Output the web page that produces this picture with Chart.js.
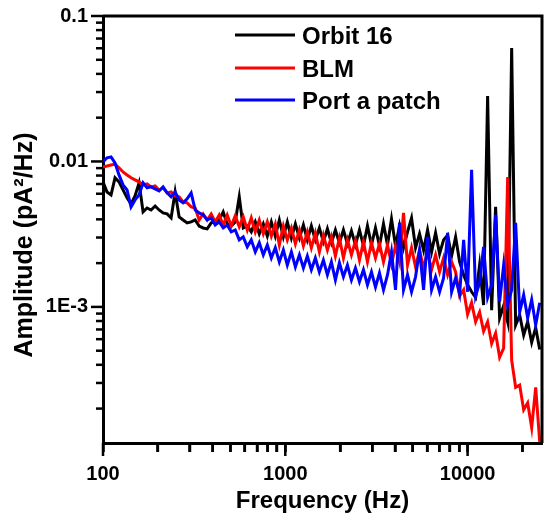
<!DOCTYPE html>
<html><head><meta charset="utf-8">
<script src="https://cdn.jsdelivr.net/npm/chart.js@4.4.0/dist/chart.umd.min.js"></script>
<style>html,body{margin:0;padding:0;background:#fff;}canvas{display:block;}</style>
</head><body>
<canvas id="c" width="544" height="523"></canvas>
<script>
// Frequency grid (Hz)
const freqHz = [100, 105.2, 110.7, 116.4, 122.4, 128.8, 135.5, 142.5, 149.9, 157.7,
 165.9, 174.5, 183.5, 193.1, 203.1, 213.6, 224.7, 236.4, 248.7, 261.6,
 275.2, 289.4, 304.5, 320.3, 336.9, 354.4, 372.8, 392.2, 412.6, 434.0,
 456.5, 480.2, 505.2, 531.4, 559.0, 588.0, 618.6, 650.7, 684.5, 720.0,
 757.4, 796.8, 838.2, 881.7, 927.5, 975.7, 1026, 1080, 1136, 1195,
 1257, 1321, 1390, 1462, 1538, 1618, 1702, 1790, 1883, 1981,
 2084, 2192, 2306, 2426, 2552, 2684, 2823, 2970, 3124, 3286,
 3457, 3636, 3825, 4024, 4233, 4452, 4684, 4927, 5183, 5452,
 5735, 6032, 6346, 6675, 7022, 7386, 7770, 8173, 8597, 9044,
 9513, 10000, 10520, 11070, 11640, 12240, 12880, 13550, 14250, 14990,
 15770, 16590, 17450, 18350, 19310, 20310, 21360, 22470, 23640, 24870];

// Amplitude (pA^2/Hz)
const orbit16 = [0.00724, 0.00617, 0.00589, 0.00772, 0.00724, 0.00637, 0.00562, 0.0051, 0.0058, 0.00713,
 0.0045, 0.00479, 0.00464, 0.00494, 0.00464, 0.00443, 0.00436, 0.00409, 0.00617, 0.00416,
 0.00396, 0.00378, 0.00384, 0.00396, 0.0036, 0.00349, 0.00344, 0.00378, 0.00384, 0.00396,
 0.0045, 0.00372, 0.0036, 0.00384, 0.00571, 0.00349, 0.0036, 0.00328, 0.00384, 0.00318,
 0.00372, 0.00307, 0.00384, 0.00307, 0.00396, 0.00303, 0.00384, 0.00298, 0.00372, 0.00298,
 0.00366, 0.00289, 0.0036, 0.00289, 0.00349, 0.0028, 0.00344, 0.00276, 0.00338, 0.00276,
 0.00338, 0.00272, 0.00333, 0.00267, 0.00338, 0.00263, 0.0036, 0.00267, 0.00349, 0.00263,
 0.00372, 0.00267, 0.00402, 0.00263, 0.0036, 0.00255, 0.00328, 0.00409, 0.00255, 0.00318,
 0.00246, 0.00338, 0.00239, 0.00323, 0.00232, 0.00289, 0.00312, 0.00224, 0.00303, 0.00204,
 0.00166, 0.00142, 0.00127, 0.00116, 0.00194, 0.00103, 0.0282, 0.00095, 0.00487, 0.00084,
 0.00102, 0.00079, 0.0603, 0.00075, 0.00088, 0.00064, 0.00079, 0.00057, 0.00072, 0.00051];

const blm = [0.00917, 0.00931, 0.00946, 0.0096, 0.00903, 0.00847, 0.00808, 0.00772, 0.00747, 0.00724,
 0.0069, 0.00702, 0.00669, 0.0068, 0.00637, 0.00659, 0.00608, 0.00617, 0.0058, 0.00571,
 0.00527, 0.00519, 0.00487, 0.00479, 0.00396, 0.00436, 0.00396, 0.00436, 0.00384, 0.00429,
 0.00366, 0.00429, 0.0036, 0.00423, 0.00355, 0.00416, 0.00338, 0.00409, 0.00328, 0.00396,
 0.00318, 0.00384, 0.00307, 0.00372, 0.00267, 0.0036, 0.00289, 0.00349, 0.00272, 0.00338,
 0.00263, 0.00328, 0.00255, 0.00323, 0.00239, 0.00312, 0.00246, 0.00303, 0.00224, 0.00298,
 0.00217, 0.00289, 0.00228, 0.00285, 0.0021, 0.0028, 0.00204, 0.00276, 0.00217, 0.00272,
 0.00204, 0.00267, 0.00197, 0.00263, 0.00204, 0.00443, 0.00194, 0.00255, 0.00188, 0.00246,
 0.00185, 0.00239, 0.0018, 0.00228, 0.00174, 0.00217, 0.00166, 0.00204, 0.00174, 0.00119,
 0.00131, 0.00089, 0.00107, 0.00079, 0.00092, 0.00068, 0.00079, 0.00056, 0.00066, 0.00045,
 0.00052, 0.00783, 0.00043, 0.00028, 0.00029, 0.000196, 0.000219, 0.000148, 0.00028, 0.000118];

const portAPatch = [0.00991, 0.0106, 0.01076, 0.00976, 0.00808, 0.0069, 0.00637, 0.00487, 0.00544, 0.00589,
 0.00713, 0.00659, 0.00669, 0.00648, 0.00627, 0.00669, 0.00608, 0.00571, 0.00617, 0.00544,
 0.00519, 0.00553, 0.00608, 0.00464, 0.00443, 0.00429, 0.00396, 0.00409, 0.00366, 0.00384,
 0.00349, 0.00366, 0.00328, 0.00338, 0.00289, 0.00303, 0.00259, 0.00289, 0.00239, 0.00276,
 0.00228, 0.00267, 0.00217, 0.00255, 0.00204, 0.00246, 0.00194, 0.00239, 0.00188, 0.00228,
 0.00185, 0.00224, 0.0018, 0.00217, 0.00174, 0.0021, 0.00166, 0.00204, 0.00153, 0.00201,
 0.00161, 0.00194, 0.00153, 0.00185, 0.00149, 0.0018, 0.00142, 0.00174, 0.00137, 0.00171,
 0.00131, 0.00166, 0.00239, 0.00131, 0.00378, 0.00131, 0.00166, 0.00127, 0.00161, 0.00246,
 0.00131, 0.00303, 0.00131, 0.00161, 0.00127, 0.00158, 0.00323, 0.00127, 0.00158, 0.00123,
 0.00289, 0.00127, 0.00875, 0.00119, 0.00146, 0.00259, 0.00116, 0.00142, 0.00429, 0.00109,
 0.00194, 0.00103, 0.00131, 0.00378, 0.00092, 0.00121, 0.00084, 0.00112, 0.00075, 0.00107];

// Tick positions and labels
const xTicks = [100, 200, 300, 400, 500, 600, 700, 800, 900, 1000, 2000, 3000, 4000, 5000, 6000, 7000, 8000, 9000, 10000, 20000];
const xTickLabels = {100: '100', 1000: '1000', 10000: '10000'};
const yTicks = [0.0002, 0.0003, 0.0004, 0.0005, 0.0006, 0.0007, 0.0008, 0.0009, 0.001,
 0.002, 0.003, 0.004, 0.005, 0.006, 0.007, 0.008, 0.009, 0.01,
 0.02, 0.03, 0.04, 0.05, 0.06, 0.07, 0.08, 0.09, 0.1];
const yTickLabels = {0.001: '1E-3', 0.01: '0.01', 0.1: '0.1'};

const FONT = '"Liberation Sans", Arial, sans-serif';
Chart.defaults.font.family = FONT;
Chart.defaults.font.weight = 'bold';
Chart.defaults.color = '#000';

const pts = arr => freqHz.map((f, i) => ({x: f, y: arr[i]}));

// Tick marks placed through the scales: long for labelled decades, short otherwise
const tickMarks = {
  id: 'tickMarks',
  afterDraw(chart) {
    const ctx = chart.ctx, xs = chart.scales.x, ys = chart.scales.y;
    ctx.save();
    ctx.fillStyle = '#000000';
    xs.ticks.forEach(t => {
      const len = xTickLabels[t.value] ? 13 : 9;
      const px = xs.getPixelForValue(t.value);
      ctx.fillRect(px - 1.25, xs.top, 2.5, len);
    });
    ys.ticks.forEach(t => {
      const len = yTickLabels[t.value] ? 12 : 7;
      const py = ys.getPixelForValue(t.value);
      ctx.fillRect(ys.right - len, py - 1.25, len, 2.5);
    });
    ctx.restore();
  }
};

const frame = {
  id: 'frame',
  afterDatasetsDraw(chart) {
    const {ctx, chartArea: a} = chart;
    ctx.save();
    ctx.strokeStyle = '#000';
    ctx.lineWidth = 3;
    ctx.beginPath();
    ctx.moveTo(a.left, a.top); ctx.lineTo(a.right, a.top); ctx.lineTo(a.right, a.bottom);
    ctx.stroke();
    ctx.restore();
  }
};

const customText = {
  id: 'customText',
  afterDraw(chart) {
    const {ctx} = chart;
    ctx.save();
    // legend
    const rows = [35, 68, 100];
    chart.data.datasets.forEach((ds, i) => {
      const y = rows[i];
      ctx.strokeStyle = ds.borderColor;
      ctx.lineWidth = 3;
      ctx.beginPath(); ctx.moveTo(235, y); ctx.lineTo(295, y); ctx.stroke();
      ctx.fillStyle = '#000';
      ctx.font = 'bold 24px ' + FONT;
      ctx.textAlign = 'left';
      ctx.textBaseline = 'middle';
      ctx.fillText(ds.label, 302, y + 2);
    });
    // y axis title
    ctx.translate(25, 245);
    ctx.rotate(-Math.PI / 2);
    ctx.font = 'bold 25px ' + FONT;
    ctx.textAlign = 'center';
    ctx.textBaseline = 'middle';
    ctx.fillStyle = '#000';
    ctx.fillText('Amplitude (pA\u00B2/Hz)', 0, 0);
    ctx.restore();
  }
};

new Chart(document.getElementById('c'), {
  type: 'line',
  data: {
    datasets: [
      {label: 'Orbit 16', data: pts(orbit16), borderColor: '#000000', borderWidth: 3, pointRadius: 0, tension: 0, order: 2},
      {label: 'BLM', data: pts(blm), borderColor: '#ff0000', borderWidth: 3, pointRadius: 0, tension: 0, order: 1},
      {label: 'Port a patch', data: pts(portAPatch), borderColor: '#0000ff', borderWidth: 3, pointRadius: 0, tension: 0, order: 0}
    ]
  },
  options: {
    responsive: false,
    animation: false,
    devicePixelRatio: 1,
    layout: {padding: {top: 16, right: 2, left: 0, bottom: 0}},
    plugins: {legend: {display: false}, tooltip: {enabled: false}},
    scales: {
      x: {
        type: 'logarithmic', position: 'bottom', min: 100, max: 25600,
        afterFit(s) { s.height = 80; },
        afterBuildTicks(s) { s.ticks = xTicks.map(v => ({value: v})); },
        ticks: {autoSkip: false, maxRotation: 0, padding: 10, color: '#000', font: {size: 20, weight: 'bold'},
          callback: v => xTickLabels[v] || ''},
        grid: {drawOnChartArea: false, drawTicks: true, tickLength: 9, tickWidth: 2.5, tickColor: '#000000'},
        border: {display: true, color: '#000', width: 3},
        title: {display: true, text: 'Frequency (Hz)', color: '#000', font: {size: 24, weight: 'bold'}, padding: {top: 0, bottom: 7}}
      },
      y: {
        type: 'logarithmic', position: 'left', min: 0.000116, max: 0.1,
        afterFit(s) { s.width = 103; },
        afterBuildTicks(s) { s.ticks = yTicks.map(v => ({value: v})); },
        ticks: {autoSkip: false, padding: 4, color: '#000', font: {size: 20, weight: 'bold'},
          callback: v => yTickLabels[v] || ''},
        grid: {drawOnChartArea: false, drawTicks: true, tickLength: 11, tickWidth: 0, tickColor: 'rgba(0,0,0,0)'},
        border: {display: true, color: '#000', width: 3},
        title: {display: false}
      }
    }
  },
  plugins: [tickMarks, frame, customText]
});
</script>
</body></html>
